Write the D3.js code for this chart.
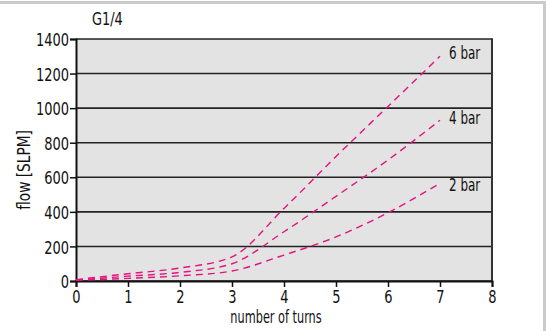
<!DOCTYPE html>
<html><head><meta charset="utf-8">
<script src="https://cdn.jsdelivr.net/npm/d3@7"></script>
<style>
body{margin:0;background:#fff;}
svg text{font-family:"DejaVu Sans Condensed","DejaVu Sans",sans-serif !important;font-stretch:condensed;fill:#111;}
</style></head>
<body><svg id="c" width="549" height="331"></svg>
<script>
const turns = [0, 1, 2, 3, 4, 5, 6, 7];
const bar6 = [8, 42, 75, 140, 420, 720, 1010, 1300];
const bar4 = [6, 28, 50, 100, 285, 490, 700, 930];
const bar2 = [4, 15, 30, 58, 150, 255, 395, 565];
const seriesNames = ["6 bar", "4 bar", "2 bar"];
const xTicks = [0, 1, 2, 3, 4, 5, 6, 7, 8];
const yTicks = [0, 200, 400, 600, 800, 1000, 1200, 1400];
const title = "G1/4";
const xLabel = "number of turns";
const yLabel = "flow [SLPM]";

const svg = d3.select("#c");
const L = 76, R = 492, T = 39, B = 281;
const x = d3.scaleLinear().domain([0, 8]).range([L, R]);
const y = d3.scaleLinear().domain([0, 1400]).range([B, T]);

function squeeze(sel, sx) {
  sel.each(function() {
    const t = d3.select(this);
    const x0 = +(t.attr("x") || 0);
    const tr = t.attr("transform") || "";
    t.attr("x", x0 / sx).attr("transform", tr + ` scale(${sx},1)`);
  });
}

svg.append("rect").attr("x", 0).attr("y", 1).attr("width", 546).attr("height", 3).attr("fill", "#cbcbcb");
svg.append("rect").attr("x", 543).attr("y", 1).attr("width", 3).attr("height", 330).attr("fill", "#cbcbcb");

svg.append("rect").attr("x", L).attr("y", T).attr("width", R - L).attr("height", B - T).attr("fill", "#e3e3e3");

svg.append("g").selectAll("line").data(yTicks).join("line")
  .attr("x1", L).attr("x2", R).attr("y1", d => y(d)).attr("y2", d => y(d))
  .attr("stroke", "#222").attr("stroke-width", 1.6);
svg.append("line").attr("x1", R).attr("x2", R).attr("y1", T - 0.8).attr("y2", B).attr("stroke", "#333").attr("stroke-width", 2);

const yAxis = svg.append("g").attr("transform", `translate(${L},0)`)
  .call(d3.axisLeft(y).tickValues(yTicks).tickFormat(d3.format("d")).tickSize(6).tickPadding(1));
const xAxis = svg.append("g").attr("transform", `translate(0,${B})`)
  .call(d3.axisBottom(x).tickValues(xTicks).tickFormat(d3.format("d")).tickSize(6).tickPadding(3));
[yAxis, xAxis].forEach(a => {
  a.select(".domain").attr("stroke", "#111").attr("stroke-width", 2);
  a.selectAll(".tick line").attr("stroke", "#111").attr("stroke-width", 1.5);
  a.selectAll("text").attr("font-size", 18.5).attr("fill", "#111");
});
yAxis.selectAll("text").attr("dy", "0.36em");
squeeze(yAxis.selectAll("text"), 0.78);
squeeze(xAxis.selectAll("text"), 0.78);

const line = d3.line().x((d, i) => x(turns[i])).y(d => y(d)).curve(d3.curveMonotoneX);
[bar6, bar4, bar2].forEach(s => {
  svg.append("path").attr("d", line(s)).attr("fill", "none")
    .attr("stroke", "#e6117f").attr("stroke-width", 1.4).attr("stroke-dasharray", "7,5");
});

const lbl = svg.append("g").selectAll("text").data(seriesNames).join("text")
  .attr("x", x(7) + 9).attr("y", (d, i) => [y(1300) - 4, y(930) - 3, y(565) + 1][i])
  .attr("dy", "0.36em").attr("font-size", 18).text(d => d);
squeeze(lbl, 0.74);

const tt = svg.append("text").attr("x", 92).attr("y", 25).attr("font-size", 17.5).text(title);
squeeze(tt, 0.82);
const xl = svg.append("text").attr("x", 276).attr("y", 323).attr("text-anchor", "middle").attr("font-size", 17).text(xLabel);
squeeze(xl, 0.74);
const yl = svg.append("text").attr("transform", "translate(30,170) rotate(-90)").attr("text-anchor", "middle").attr("font-size", 17.5).text(yLabel);
squeeze(yl, 0.87);
</script></body></html>
